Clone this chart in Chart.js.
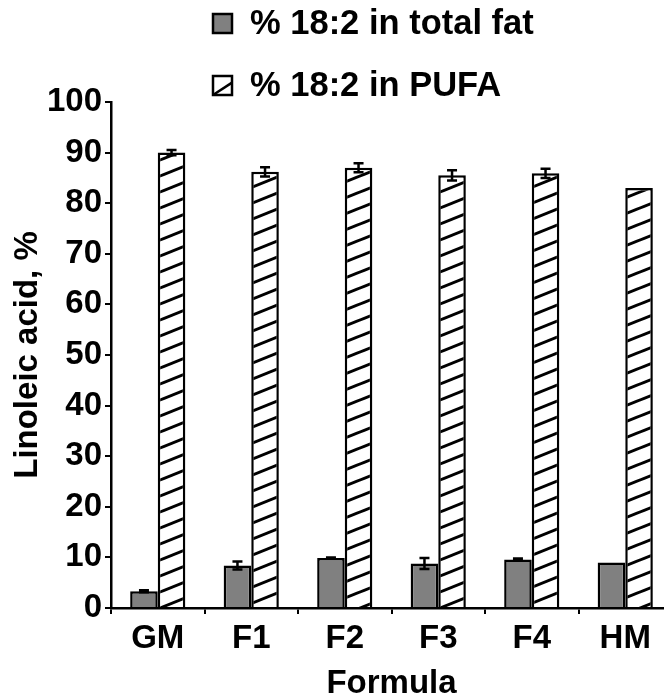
<!DOCTYPE html>
<html>
<head>
<meta charset="utf-8">
<script src="https://cdn.jsdelivr.net/npm/chart.js@4.4.0/dist/chart.umd.min.js"></script>
<style>
  html, body { margin: 0; padding: 0; background: #fff; overflow: hidden; }
  #wrap { width: 676px; height: 698px; position: relative; }
</style>
</head>
<body>
<div id="wrap"><canvas id="fattyChart"></canvas></div>
<script>
// Linoleic acid (18:2) per formula
const categories = ["GM", "F1", "F2", "F3", "F4", "HM"];
const totalFat = [3.3, 8.4, 9.9, 8.8, 9.6, 9.0];
const totalFatErr = [0.2, 0.8, 0.1, 1.1, 0.2, 0];
const pufa = [90.0, 86.2, 87.0, 85.5, 85.9, 83.0];
const pufaErr = [0.5, 0.9, 0.9, 1.0, 0.9, 0];
const yTicks = [0, 10, 20, 30, 40, 50, 60, 70, 80, 90, 100];

const FONT = "'Liberation Sans', Arial, sans-serif";

// === diagonal hatch ===
function makeHatch() {
  const w = 40, h = 16;
  const c = document.createElement("canvas");
  c.width = w;
  c.height = h;
  const g = c.getContext("2d");
  g.fillStyle = "#fff";
  g.fillRect(0, 0, w, h);
  g.strokeStyle = "#000";
  g.lineWidth = 3;
  [-h, 0, h].forEach((off) => {
    g.beginPath();
    g.moveTo(-10, h + off + 4);
    g.lineTo(w + 10, off - 4);
    g.stroke();
  });
  return g.createPattern(c, "repeat");
}
const hatch = makeHatch();

// === error bars ===
const errorBars = {
  id: "errorBars",
  afterDatasetsDraw(chart) {
    const ctx = chart.ctx;
    const y = chart.scales.y;
    ctx.save();
    ctx.strokeStyle = "#000";
    ctx.lineWidth = 2.5;
    chart.data.datasets.forEach((ds, i) => {
      const meta = chart.getDatasetMeta(i);
      ds.errors.forEach((e, j) => {
        if (!e) return;
        const x = meta.data[j].x;
        const top = y.getPixelForValue(ds.data[j] + e);
        const bot = y.getPixelForValue(ds.data[j] - e);
        ctx.beginPath();
        ctx.moveTo(x, top); ctx.lineTo(x, bot);
        ctx.moveTo(x - 5, top); ctx.lineTo(x + 5, top);
        ctx.moveTo(x - 5, bot); ctx.lineTo(x + 5, bot);
        ctx.stroke();
      });
    });
    ctx.restore();
  },
};

// === legend (two stacked rows) ===
const stackedLegend = {
  id: "stackedLegend",
  afterDraw(chart) {
    const ctx = chart.ctx;
    ctx.save();
    ctx.font = "bold 34.5px " + FONT;
    ctx.textBaseline = "middle";
    chart.data.datasets.forEach((ds, i) => {
      const cy = 23 + i * 62;
      const bx = 213, by = cy - 9, s = 19;
      ctx.fillStyle = ds.legendFill;
      ctx.fillRect(bx, by, s, s);
      ctx.strokeStyle = "#000";
      ctx.lineWidth = 2.5;
      ctx.strokeRect(bx, by, s, s);
      if (ds.legendFill === "#fff") {
        ctx.beginPath();
        ctx.moveTo(bx, by + s);
        ctx.lineTo(bx + s, by + s * 0.35);
        ctx.stroke();
      }
      ctx.fillStyle = "#000";
      ctx.fillText(ds.label, 250, cy + 1);
    });
    ctx.restore();
  },
};

new Chart(document.getElementById("fattyChart"), {
  type: "bar",
  data: {
    labels: categories,
    datasets: [
      {
        label: "% 18:2 in total fat",
        data: totalFat,
        errors: totalFatErr,
        legendFill: "#808080",
        backgroundColor: "#808080",
        borderColor: "#000",
        borderWidth: 2.5,
        categoryPercentage: 0.59,
        barPercentage: 1,
      },
      {
        label: "% 18:2 in PUFA",
        data: pufa,
        errors: pufaErr,
        legendFill: "#fff",
        backgroundColor: hatch,
        borderColor: "#000",
        borderWidth: 2.5,
        categoryPercentage: 0.59,
        barPercentage: 1,
      },
    ],
  },
  options: {
    responsive: true,
    maintainAspectRatio: false,
    animation: false,
    layout: { padding: { top: 102, right: 4, left: 0, bottom: 0 } },
    plugins: {
      legend: { display: false },
      tooltip: { enabled: false },
    },
    scales: {
      x: {
        afterFit: (s) => { s.height = 90; },
        grid: { drawOnChartArea: false, drawTicks: true, tickLength: 6, color: "#000", lineWidth: 2 },
        border: { color: "#000", width: 2.5 },
        ticks: { color: "#000", font: { family: FONT, size: 33, weight: "bold" }, padding: 5 },
        title: {
          display: true,
          text: "Formula",
          color: "#000",
          font: { family: FONT, size: 33, weight: "bold" },
          padding: { top: 0, bottom: -6 },
        },
      },
      y: {
        min: 0,
        max: 100,
        afterFit: (s) => { s.width = 111; },
        afterBuildTicks: (s) => { s.ticks = yTicks.map((v) => ({ value: v })); },
        grid: { drawOnChartArea: false, drawTicks: true, tickLength: 6, color: "#000", lineWidth: 2 },
        border: { color: "#000", width: 2.5 },
        ticks: { color: "#000", font: { family: FONT, size: 33, weight: "bold" }, padding: 3 },
        title: {
          display: true,
          text: "Linoleic acid, %",
          color: "#000",
          font: { family: FONT, size: 33, weight: "bold" },
          padding: { top: 8, bottom: 0 },
        },
      },
    },
  },
  plugins: [errorBars, stackedLegend],
});
</script>
</body>
</html>
